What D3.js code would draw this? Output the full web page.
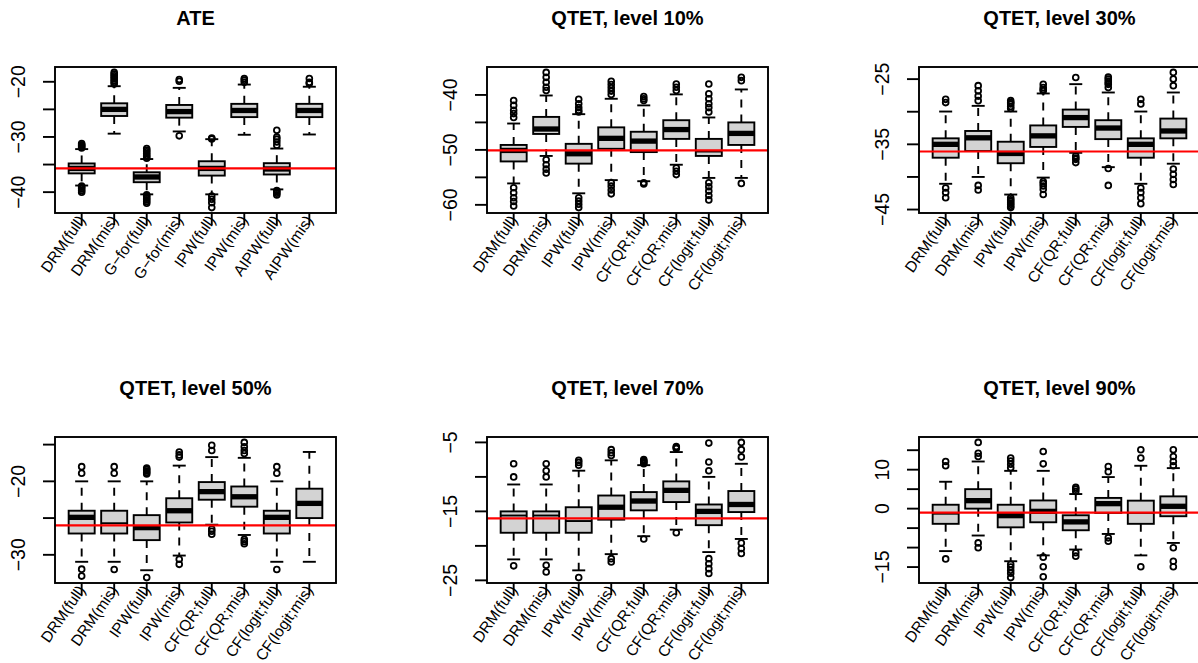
<!DOCTYPE html>
<html>
<head>
<meta charset="utf-8">
<script src="https://cdn.jsdelivr.net/npm/d3@7"></script>
<style>
  body { margin: 0; background: #fff; }
  svg { display: block; font-family: "Liberation Sans", Arial, Helvetica, sans-serif; }
</style>
</head>
<body>
<svg id="chart" width="1198" height="663"></svg>
<script>

// DATA ========================================================================
// every box: [lower whisker, q1, median, q3, upper whisker]

var ateLabels = ["DRM(full)", "DRM(mis)", "G\u2212for(full)", "G\u2212for(mis)",
                 "IPW(full)", "IPW(mis)", "AIPW(full)", "AIPW(mis)"];
var qtetLabels = ["DRM(full)", "DRM(mis)", "IPW(full)", "IPW(mis)",
                  "CF(QR;full)", "CF(QR;mis)", "CF(logit;full)", "CF(logit;mis)"];

var ateStats = [
    [-38.8, -36.6, -35.7, -34.8, -32.2],
    [-29.4, -26.2, -25.0, -23.9, -20.8],
    [-40.4, -38.2, -37.25, -36.4, -34.0],
    [-29.0, -26.5, -25.4, -24.2, -21.1],
    [-40.4, -37.0, -35.7, -34.4, -30.4],
    [-29.6, -26.4, -25.2, -24.0, -20.5],
    [-39.5, -36.8, -35.8, -34.75, -32.1],
    [-29.55, -26.4, -25.2, -24.0, -20.9]
];
var ateOut = [
    [-31.2, -31.4, -31.6, -31.8, -32.0, -38.9, -39.1, -39.4, -39.7, -40.0],
    [-18.3, -18.6, -18.9, -19.2, -19.5, -19.8, -20.1, -20.4],
    [-32.1, -32.4, -32.7, -33.0, -33.3, -33.6, -33.85, -40.5, -40.8, -41.1, -41.4, -41.7, -42.0],
    [-19.6, -19.9, -29.8],
    [-30.2, -30.35, -40.7, -41.3, -41.9, -42.8],
    [-19.4, -19.7, -20.1],
    [-28.8, -30.0, -30.4, -30.9, -31.5, -39.7, -39.9, -40.2, -40.5],
    [-19.4, -20.1, -20.3]
];
var ateTruth = -35.7;
var ateTicks = [-40, -35, -30, -25, -20];
var ateTickLabels = [-40, -30, -20];

var q10Stats = [
    [-56.1, -52.1, -50.1, -49.1, -45.2],
    [-51.1, -47.1, -46.2, -44.0, -40.1],
    [-57.9, -52.5, -50.7, -48.9, -43.5],
    [-55.5, -49.8, -47.9, -45.9, -40.7],
    [-55.7, -50.4, -48.4, -46.7, -41.9],
    [-52.7, -48.0, -46.3, -44.6, -39.9],
    [-55.1, -51.1, -50.3, -48.0, -44.1],
    [-55.1, -49.1, -47.0, -45.0, -39.0]
];
var q10Out = [
    [-41.0, -41.9, -42.8, -43.4, -44.1, -56.9, -57.8, -58.7, -59.4, -60.2],
    [-35.9, -36.8, -37.7, -38.6, -39.2, -51.8, -52.7, -53.5, -54.2],
    [-40.8, -41.6, -42.3, -42.8, -43.1, -58.7, -59.3, -59.9, -60.5],
    [-37.5, -38.1, -38.7, -39.3, -39.9, -56.0, -56.6, -57.3, -58.0],
    [-40.3, -40.7, -41.0, -56.0, -56.2],
    [-38.0, -38.6, -39.2, -53.3, -53.9, -54.5],
    [-38.0, -39.8, -40.7, -41.6, -42.3, -43.1, -56.0, -56.7, -57.5, -58.3, -59.1],
    [-36.8, -37.4, -56.1]
];
var q10Truth = -50.1;
var q10Ticks = [-60, -55, -50, -45, -40];
var q10TickLabels = [-60, -50, -40];

var q30Stats = [
    [-41.05, -37.05, -35.0, -34.08, -29.97],
    [-40.0, -36.03, -34.0, -32.95, -29.1],
    [-42.7, -37.9, -36.4, -34.6, -29.97],
    [-40.1, -35.4, -33.7, -32.1, -27.2],
    [-36.3, -32.33, -30.9, -29.67, -25.77],
    [-38.5, -34.2, -32.5, -31.3, -27.05],
    [-41.05, -37.05, -35.0, -34.08, -29.97],
    [-37.97, -34.08, -32.95, -31.05, -27.05]
];
var q30Out = [
    [-28.1, -28.6, -41.7, -42.4, -43.2],
    [-26.0, -26.8, -27.6, -28.3, -41.3, -42.0],
    [-28.3, -28.6, -28.8, -29.2, -29.5, -43.2, -43.5, -43.7, -44.0, -44.2, -44.5, -44.7],
    [-25.8, -26.3, -26.6, -26.8, -40.7, -41.0, -41.4, -41.9, -42.7],
    [-24.74, -36.8, -37.1, -37.3, -37.8],
    [-24.7, -25.0, -25.3, -25.6, -25.8, -26.3, -38.7, -41.3],
    [-28.1, -28.8, -41.7, -42.4, -43.2, -44.1],
    [-23.97, -25.0, -26.0, -38.8, -39.6, -40.4, -41.15]
];
var q30Truth = -36.1;
var q30Ticks = [-45, -40, -35, -30, -25];
var q30TickLabels = [-45, -35, -25];

var q50Stats = [
    [-30.95, -27.1, -24.9, -24.0, -20.0],
    [-30.95, -27.1, -25.7, -24.0, -20.0],
    [-32.1, -28.0, -26.3, -24.6, -20.0],
    [-30.1, -25.6, -24.0, -22.3, -17.86],
    [-25.9, -22.5, -21.4, -20.1, -16.7],
    [-27.3, -23.45, -22.1, -20.7, -16.8],
    [-30.95, -27.1, -24.9, -24.0, -20.0],
    [-30.95, -25.0, -23.0, -21.0, -16.0]
];
var q50Out = [
    [-18.0, -18.9, -31.95, -32.9],
    [-18.0, -18.9, -32.0],
    [-18.2, -18.4, -18.6, -18.8, -19.0, -33.1],
    [-16.0, -16.4, -16.7, -30.6, -31.3],
    [-15.1, -15.8, -26.5, -26.8, -27.2],
    [-14.7, -15.3, -15.8, -16.2, -27.9, -28.2, -28.5],
    [-18.0, -18.9, -32.0],
    []
];
var q50Truth = -26.0;
var q50Ticks = [-30, -25, -20, -15];
var q50TickLabels = [-30, -20];

var q70Stats = [
    [-21.96, -18.1, -15.6, -15.0, -11.1],
    [-21.96, -18.1, -15.6, -15.0, -11.1],
    [-23.55, -18.1, -16.4, -14.4, -9.1],
    [-21.2, -16.2, -14.4, -12.7, -7.6],
    [-18.6, -14.85, -13.5, -12.2, -8.3],
    [-17.65, -13.65, -11.95, -10.65, -6.4],
    [-20.9, -17.0, -15.0, -14.0, -10.0],
    [-19.0, -15.1, -14.0, -12.05, -8.1]
];
var q70Out = [
    [-8.1, -10.0, -22.9],
    [-8.1, -9.1, -10.0, -22.8, -23.8],
    [-7.6, -7.9, -8.3, -24.6],
    [-6.05, -6.5, -6.9, -21.85, -22.35],
    [-7.5, -7.65, -7.8, -7.95, -8.1, -19.0],
    [-5.6, -5.75, -5.9, -18.1],
    [-5.1, -7.85, -9.1, -21.85, -22.6, -23.3, -24.0],
    [-5.0, -6.05, -7.1, -19.6, -20.4, -21.1]
];
var q70Truth = -16.0;
var q70Ticks = [-25, -20, -15, -10, -5];
var q70TickLabels = [-25, -15, -5];

var q90Stats = [
    [-10.9, -3.9, -1.3, 1.0, 6.9],
    [-6.9, 0.0, 2.05, 5.0, 12.1],
    [-13.5, -4.8, -1.8, 1.0, 9.7],
    [-12.0, -3.5, -0.7, 2.1, 9.7],
    [-10.5, -5.55, -3.4, -1.7, 3.75],
    [-6.5, -1.1, 1.28, 2.75, 8.1],
    [-12.0, -3.9, -1.1, 2.05, 11.0],
    [-8.8, -1.95, 0.6, 3.15, 10.4]
];
var q90Out = [
    [12.1, 11.0, -12.9],
    [17.0, 14.2, 13.4, -8.8, -10.05],
    [13.0, 12.2, 11.4, 10.5, -14.3, -15.0, -15.8, -16.6, -17.7],
    [14.65, 11.5, -12.45, -14.9, -17.5],
    [5.45, 5.0, 4.4, -11.3, -12.2],
    [10.8, 9.5, -7.5, -8.35],
    [15.1, 13.0, -14.9],
    [15.1, 13.4, 12.1, 11.0, -10.05, -13.5, -14.9]
];
var q90Truth = -1.0;
var q90Ticks = [-15, -10, -5, 0, 5, 10, 15];
var q90TickLabels = [-15, 0, 10];

// boxes whose median shows as a thin line in the picture
var ateThinMed = [], q10ThinMed = [6], q30ThinMed = [],
    q50ThinMed = [1], q70ThinMed = [0, 1, 2], q90ThinMed = [0, 6];

var panels = [
    {title: "ATE", labels: ateLabels, stats: ateStats, out: ateOut, truth: ateTruth, ticks: ateTicks, tickLabels: ateTickLabels, thin: ateThinMed},
    {title: "QTET, level 10%", labels: qtetLabels, stats: q10Stats, out: q10Out, truth: q10Truth, ticks: q10Ticks, tickLabels: q10TickLabels, thin: q10ThinMed},
    {title: "QTET, level 30%", labels: qtetLabels, stats: q30Stats, out: q30Out, truth: q30Truth, ticks: q30Ticks, tickLabels: q30TickLabels, thin: q30ThinMed},
    {title: "QTET, level 50%", labels: qtetLabels, stats: q50Stats, out: q50Out, truth: q50Truth, ticks: q50Ticks, tickLabels: q50TickLabels, thin: q50ThinMed},
    {title: "QTET, level 70%", labels: qtetLabels, stats: q70Stats, out: q70Out, truth: q70Truth, ticks: q70Ticks, tickLabels: q70TickLabels, thin: q70ThinMed},
    {title: "QTET, level 90%", labels: qtetLabels, stats: q90Stats, out: q90Out, truth: q90Truth, ticks: q90Ticks, tickLabels: q90TickLabels, thin: q90ThinMed}
];

// LAYOUT ======================================================================

var colLeft = [55, 487, 919],
    rowTop = [67, 437],
    plotW = 281,
    plotH = 146,
    lw = 1.9;

var svg = d3.select("#chart");

function minusSign(v) {
    return String(v).replace("-", "\u2212");
}

panels.forEach(function(p, i) {
    var left = colLeft[i % 3],
        top = rowTop[Math.floor(i / 3)],
        n = p.stats.length;

    // R style range: data extent padded by 4% each side
    var all = [];
    p.stats.forEach(function(s) { all = all.concat(s); });
    p.out.forEach(function(o) { all = all.concat(o); });
    var lo = d3.min(all), hi = d3.max(all), pad = (hi - lo) * 0.04;

    var x = d3.scaleLinear()
        .domain([0.5 - n * 0.04, n + 0.5 + n * 0.04])
        .range([left, left + plotW]);
    var y = d3.scaleLinear()
        .domain([lo - pad, hi + pad])
        .range([top + plotH, top]);
    var bw = x(0.4) - x(0), sw = x(0.2) - x(0);

    var g = svg.append("g");

    g.append("clipPath").attr("id", "clip" + i)
        .append("rect")
        .attr("x", left).attr("y", top)
        .attr("width", plotW).attr("height", plotH);

    // boxes
    var box = g.selectAll(".box")
        .data(p.stats)
        .enter().append("g")
            .attr("class", "box");

    box.append("line")
        .attr("x1", function(d, j) { return x(j + 1); })
        .attr("x2", function(d, j) { return x(j + 1); })
        .attr("y1", function(d) { return y(d[1]); })
        .attr("y2", function(d) { return y(d[0]); })
        .attr("stroke", "#000").attr("stroke-width", lw)
        .attr("stroke-dasharray", "8,7");
    box.append("line")
        .attr("x1", function(d, j) { return x(j + 1); })
        .attr("x2", function(d, j) { return x(j + 1); })
        .attr("y1", function(d) { return y(d[3]); })
        .attr("y2", function(d) { return y(d[4]); })
        .attr("stroke", "#000").attr("stroke-width", lw)
        .attr("stroke-dasharray", "8,7");
    [0, 4].forEach(function(k) {
        box.append("line")
            .attr("x1", function(d, j) { return x(j + 1) - sw; })
            .attr("x2", function(d, j) { return x(j + 1) + sw; })
            .attr("y1", function(d) { return y(d[k]); })
            .attr("y2", function(d) { return y(d[k]); })
            .attr("stroke", "#000").attr("stroke-width", lw);
    });
    box.append("rect")
        .attr("x", function(d, j) { return x(j + 1) - bw; })
        .attr("width", 2 * bw)
        .attr("y", function(d) { return y(d[3]); })
        .attr("height", function(d) { return y(d[1]) - y(d[3]); })
        .attr("fill", "#d3d3d3")
        .attr("stroke", "#000").attr("stroke-width", lw);
    box.append("line")
        .attr("x1", function(d, j) { return x(j + 1) - bw; })
        .attr("x2", function(d, j) { return x(j + 1) + bw; })
        .attr("y1", function(d) { return y(d[2]); })
        .attr("y2", function(d) { return y(d[2]); })
        .attr("stroke", "#000")
        .attr("stroke-width", function(d, j) {
            return p.thin.indexOf(j) >= 0 ? lw : lw * 2.8;
        });

    // outliers
    p.out.forEach(function(o, j) {
        g.selectAll(null)
            .data(o)
            .enter().append("circle")
                .attr("cx", x(j + 1))
                .attr("cy", function(d) { return y(d); })
                .attr("r", 2.9)
                .attr("fill", "none")
                .attr("stroke", "#000").attr("stroke-width", 1.8);
    });

    // true value
    g.append("line")
        .attr("clip-path", "url(#clip" + i + ")")
        .attr("x1", left).attr("x2", left + plotW)
        .attr("y1", y(p.truth)).attr("y2", y(p.truth))
        .attr("stroke", "#ff0000").attr("stroke-width", 2.2);

    // frame
    g.append("rect")
        .attr("x", left).attr("y", top)
        .attr("width", plotW).attr("height", plotH)
        .attr("fill", "none")
        .attr("stroke", "#000").attr("stroke-width", lw);

    // y axis
    g.selectAll(".ytick")
        .data(p.ticks)
        .enter().append("line")
            .attr("x1", left).attr("x2", left - 12)
            .attr("y1", function(d) { return y(d); })
            .attr("y2", function(d) { return y(d); })
            .attr("stroke", "#000").attr("stroke-width", lw);
    g.selectAll(".ylab")
        .data(p.tickLabels)
        .enter().append("text")
            .attr("transform", function(d) {
                return "translate(" + (left - 30) + "," + y(d) + ") rotate(-90)";
            })
            .attr("text-anchor", "middle")
            .style("font-size", "19.5px")
            .text(minusSign);

    // x axis
    g.selectAll(".xtick")
        .data(p.labels)
        .enter().append("line")
            .attr("x1", function(d, j) { return x(j + 1); })
            .attr("x2", function(d, j) { return x(j + 1); })
            .attr("y1", top + plotH).attr("y2", top + plotH + 12)
            .attr("stroke", "#000").attr("stroke-width", lw);
    g.selectAll(".xlab")
        .data(p.labels)
        .enter().append("text")
            .attr("transform", function(d, j) {
                return "translate(" + x(j + 1) + "," + (top + plotH + 4) + ") rotate(-55)";
            })
            .attr("text-anchor", "end")
            .attr("dominant-baseline", "central")
            .style("font-size", "15.5px")
            .text(function(d) { return d; });

    // title
    g.append("text")
        .attr("x", left + plotW / 2)
        .attr("y", top - 42)
        .attr("text-anchor", "middle")
        .style("font-size", "20px")
        .style("font-weight", "bold")
        .text(p.title);
});

</script>
</body>
</html>
